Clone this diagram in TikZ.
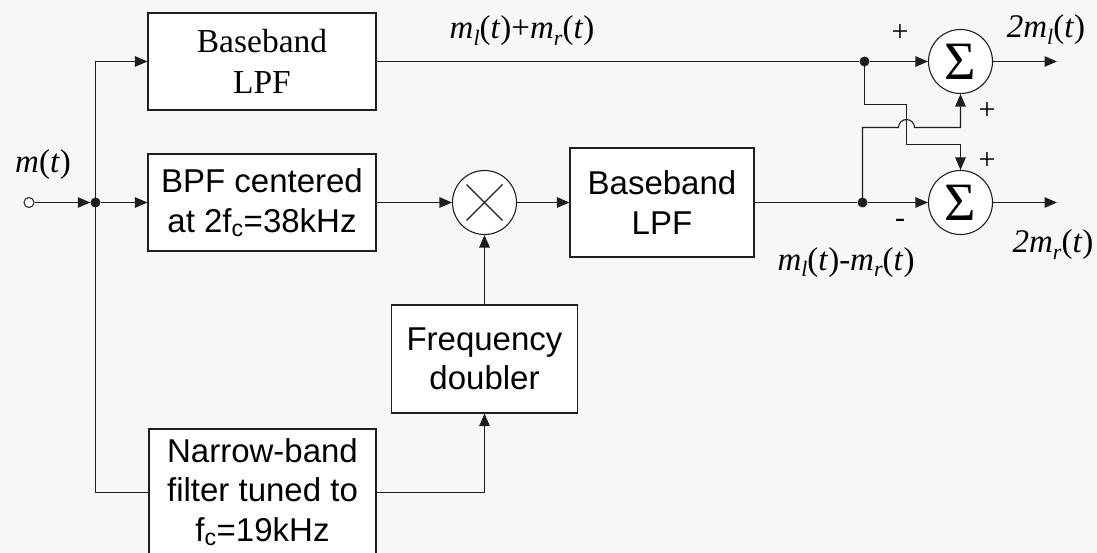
\documentclass[tikz,border=0pt]{standalone}
\usepackage{fontspec}
\setmainfont{Liberation Serif}
\newfontfamily\arialfam{Liberation Sans}
\usetikzlibrary{arrows.meta}
\definecolor{bgc}{HTML}{F7F7F7}
\definecolor{ink}{HTML}{1E1E1E}
% lowered index used in the signal labels
\newcommand\lowidx[1]{\raisebox{-0.2em}{\fontsize{22}{22}\selectfont #1}}
\tikzset{
  wire/.style={line width=1.1pt, draw=ink},
  arr/.style={wire, -{Triangle[length=12.5pt,width=10.5pt]}},
  blk/.style={rectangle, draw=ink, line width=1.1pt, fill=white, inner sep=0pt,
              align=center, font={\arialfam\fontsize{33}{39.5}\selectfont}},
  blkserif/.style={blk, font={\fontsize{33.5}{41}\selectfont}},
  opc/.style={circle, draw=ink, line width=1.1pt, fill=white, inner sep=0pt,
              minimum size=64pt},
  sumc/.style={opc, font={\fontsize{54}{54}\selectfont}},
  junct/.style={circle, fill=ink, inner sep=0pt, minimum size=10pt},
  port/.style={circle, draw=ink, line width=1pt, fill=white, inner sep=0pt, minimum size=10pt},
  sig/.style={font={\fontsize{33}{36}\selectfont}, inner sep=0pt, anchor=base},
  sgn/.style={font={\fontsize{30}{30}\selectfont}, inner sep=0pt}
}
\begin{document}
\begin{tikzpicture}[x=1pt,y=-1pt]
\fill[bgc] (0,0) rectangle (1097,553);
\useasboundingbox (0,0) rectangle (1097,553);

% blocks
\node[blkserif, minimum width=228pt, minimum height=97pt] (lpfa) at (262,61.5) {Baseband\\LPF};
\node[blk, minimum width=228pt, minimum height=97pt] (bpf) at (262,202.5) {BPF centered\\at 2f\textsubscript{c}=38kHz};
\node[opc] (mix) at (484.5,202.5) {};
\node[blk, minimum width=184pt, minimum height=109pt] (lpfb) at (662,202.5) {Baseband\\LPF};
\node[blk, minimum width=186pt, minimum height=108pt] (dbl) at (484.5,359) {Frequency\\doubler};
\node[blk, minimum width=227pt, minimum height=126pt] (nbf) at (262.5,492) {Narrow-band\\filter tuned to\\f\textsubscript{c}=19kHz};
\node[sumc] (sa) at (960.5,61.5) {Σ};
\node[sumc] (sb) at (960.5,202.5) {Σ};

% multiplier cross
\draw[wire] ([shift={(-18,-18)}]mix.center) -- ([shift={(18,18)}]mix.center);
\draw[wire] ([shift={(-18,18)}]mix.center) -- ([shift={(18,-18)}]mix.center);

% ports, junctions and bend points
\node[port] (in) at (29,202.5) {};
\node[junct] (ja) at (95.5,202.5) {};
\coordinate (tp) at (95.5,61.5);
\coordinate (bt) at (95.5,492.5);
\node[junct] (jb) at (864.5,61.5) {};
\node[junct] (jc) at (862.5,202.5) {};
\coordinate (ka) at (906.5,104.5);
\coordinate (kb) at (906.5,144.5);
\coordinate (ha) at (898.5,127.5);
\coordinate (oa) at (1057,61.5);
\coordinate (ob) at (1057,202.5);

% input distribution
\draw[arr] (in) -- (ja);
\draw[arr] (ja) -- (bpf);
\draw[wire] (tp) -- (bt);
\draw[arr] (tp) -- (lpfa);
\draw[wire] (bt) -- (bt -| nbf.west);

% signal paths
\draw[wire] (lpfa) -- (jb);
\draw[arr] (jb) -- (sa);
\draw[arr] (bpf) -- (mix);
\draw[arr] (mix) -- (lpfb);
\draw[wire] (lpfb) -- (jc);
\draw[arr] (jc) -- (sb);
\draw[arr] (bt -| nbf.east) -| (dbl.south);
\draw[arr] (dbl) -- (mix);

% cross-over into the summers
\draw[arr] (jb.center) |- (ka) -- (kb) -| (sb.north);
\draw[arr] (jc.center) |- (ha) arc[start angle=180, end angle=360, radius=8] -| (sa.south);

% outputs
\draw[arr] (sa) -- (oa);
\draw[arr] (sb) -- (ob);

% labels
\node[sig] (lm) at (43,173) {\textit{m}(\textit{t})};
\node[sig] (lsum) at (522,39) {\textit{m}\lowidx{\textit{l}}(\textit{t})+\textit{m}\lowidx{\textit{r}}(\textit{t})};
\node[sig] (ldif) at (846,270) {\textit{m}\lowidx{\textit{l}}(\textit{t})-\textit{m}\lowidx{\textit{r}}(\textit{t})};
\node[sig] (lol) at (1046,38) {\textit{2m}\lowidx{\textit{l}}(\textit{t})};
\node[sig] (lor) at (1053,253) {\textit{2m}\lowidx{\textit{r}}(\textit{t})};
\node[sgn] (pa) at (900,33) {+};
\node[sgn] (pb) at (987,111) {+};
\node[sgn] (pc) at (987,161) {+};
\node[sgn] (pd) at (900,223) {-};
\end{tikzpicture}
\end{document}
